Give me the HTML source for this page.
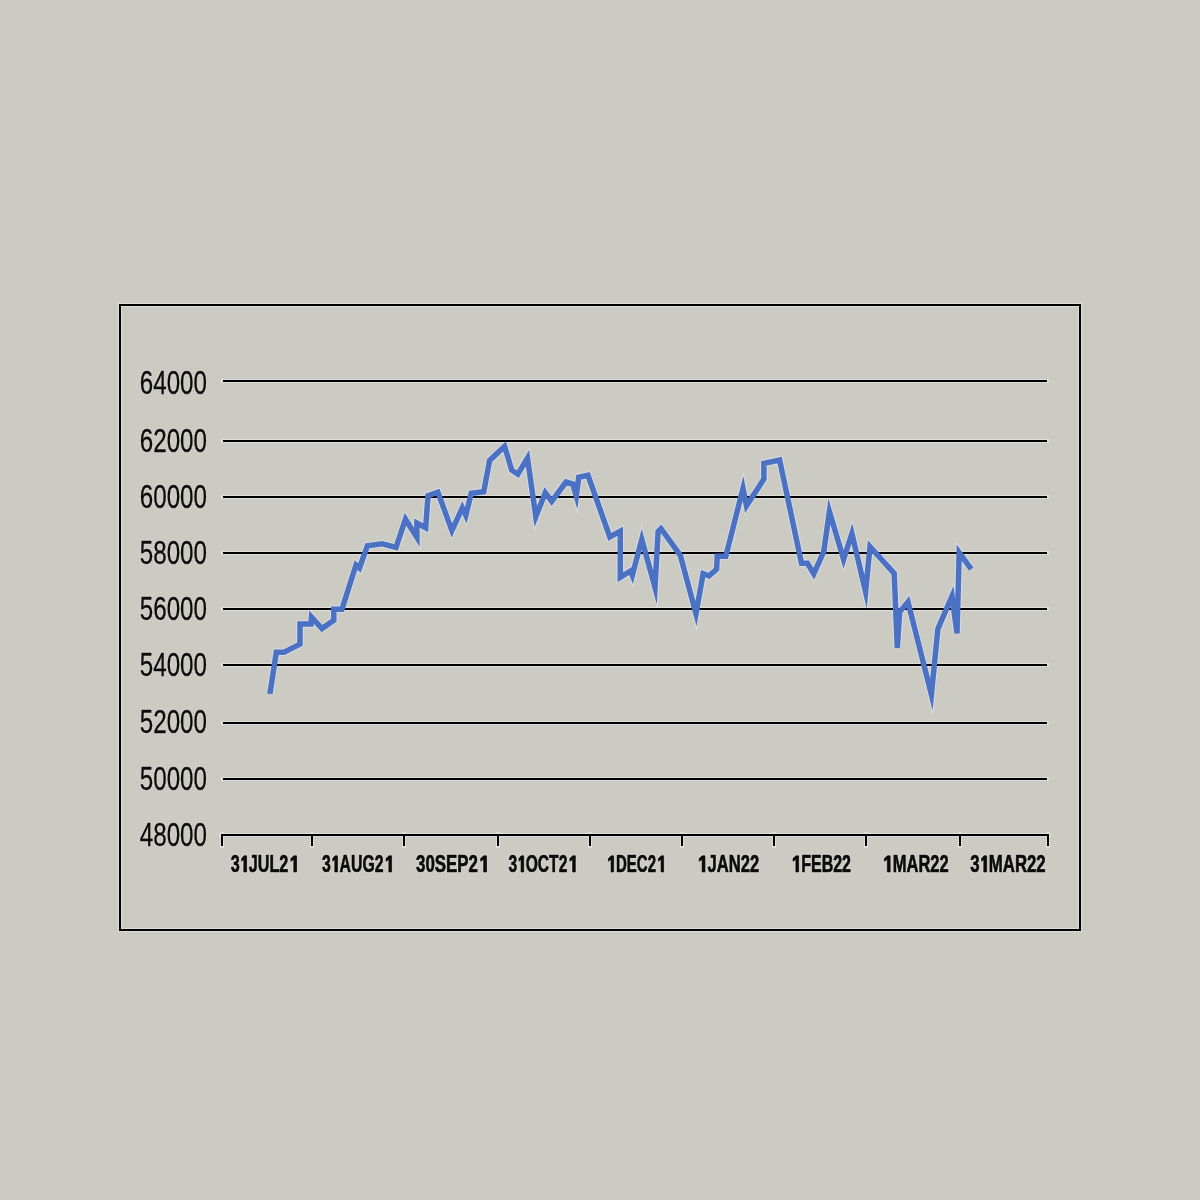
<!DOCTYPE html>
<html><head><meta charset="utf-8"><title>Chart</title>
<style>html,body{margin:0;padding:0;background:#cbcbc3;width:1200px;height:1200px;overflow:hidden}
svg{display:block}
.yl{font-family:"Liberation Sans",sans-serif;font-size:33px;fill:#0a0a0a;stroke:#0a0a0a;stroke-width:0.35px}
.xl{font-family:"Liberation Sans",sans-serif;font-weight:bold;font-size:23.5px;fill:#0a0a0a;stroke:#0a0a0a;stroke-width:0.7px}
.xl1{fill:#0a0a0a;stroke:#0a0a0a;stroke-width:0.7px;vector-effect:non-scaling-stroke}
</style></head><body>
<svg width="1200" height="1200" viewBox="0 0 1200 1200">
<rect x="0" y="0" width="1200" height="1200" fill="#cbcbc3"/>
<path d="M120 305H1080V930H120ZM223 381H1047M223 441H1047M223 497H1047M223 553H1047M223 609H1047M223 665H1047M223 723H1047M223 779H1047M221 835H1049M222 834V846M312 834V846M404 834V846M498 834V846M590 834V846M682 834V846M774 834V846M866 834V846M960 834V846M1048 834V846" fill="none" stroke="#dfdfd7" stroke-width="4" stroke-linecap="square" stroke-linejoin="miter"/>
<path d="M269.45 697 L276.3 652.3 L284 652.3 L300 644.1 L300 624 L311 624 L311.5 617.02 L322 628.5 L333.8 620.2 L333.8 609.2 L342 609.2 L356 565 L359.5 568 L367.4 545.7 L382 543.7 L396 547.5 L405.5 519.24 L416.9 537.44 L416.9 523.1 L425.7 527.8 L428 495.7 L437.9 492.2 L451.9 530.62 L462.3 507.84 L465.8 515.36 L471.25 493.3 L483.75 491.7 L489.6 460.4 L504.6 446.3 L511.7 470 L517.9 474.2 L527.5 458.18 L535.8 516.6 L545.3 492.7 L551.7 501.3 L566 482 L572.7 484 L576.3 496.1 L578.7 477.3 L588 475.3 L609.8 537 L620.3 531.2 L620.3 577.3 L630.5 571 L632.3 575.34 L641.8 539.28 L655 587.46 L658.1 531.4 L661 528.7 L680.3 555.3 L696 613.84 L703.1 573.7 L709 575.8 L716.6 569.3 L717.2 556.3 L725.8 556.3 L743 488.36 L746.5 505.82 L763.9 479 L763.9 463.3 L779.6 460 L801.5 563.2 L807.4 563.2 L813.8 573.76 L823.8 551.5 L829.4 511.5 L843.6 559.36 L851.9 533.46 L865.6 591.84 L870 546.74 L894.2 573.3 L897.3 648 L899.6 612 L908 601.96 L931.4 694.6 L937.9 628.8 L952 596.24 L957 633.5 L959.2 552.66 L971.25 569.2" fill="none" stroke="#d9dce0" stroke-width="7.5" stroke-linejoin="miter" stroke-miterlimit="10" stroke-linecap="butt"/>
<path d="M120 305H1080V930H120ZM223 381H1047M223 441H1047M223 497H1047M223 553H1047M223 609H1047M223 665H1047M223 723H1047M223 779H1047M221 835H1049M222 834V846M312 834V846M404 834V846M498 834V846M590 834V846M682 834V846M774 834V846M866 834V846M960 834V846M1048 834V846" fill="none" stroke="#000" stroke-width="2" stroke-linejoin="miter"/>
<g opacity="0.995" fill="#dcdcd4" stroke="#dcdcd4" stroke-width="1.6" stroke-linejoin="round">
<text style="font-family:'Liberation Sans',sans-serif;font-size:33px" text-anchor="end" transform="translate(207 393.6) scale(0.733 1)">64000</text>
<text style="font-family:'Liberation Sans',sans-serif;font-size:33px" text-anchor="end" transform="translate(207 452) scale(0.733 1)">62000</text>
<text style="font-family:'Liberation Sans',sans-serif;font-size:33px" text-anchor="end" transform="translate(207 507.8) scale(0.733 1)">60000</text>
<text style="font-family:'Liberation Sans',sans-serif;font-size:33px" text-anchor="end" transform="translate(207 563.6) scale(0.733 1)">58000</text>
<text style="font-family:'Liberation Sans',sans-serif;font-size:33px" text-anchor="end" transform="translate(207 620) scale(0.733 1)">56000</text>
<text style="font-family:'Liberation Sans',sans-serif;font-size:33px" text-anchor="end" transform="translate(207 676.3) scale(0.733 1)">54000</text>
<text style="font-family:'Liberation Sans',sans-serif;font-size:33px" text-anchor="end" transform="translate(207 732.6) scale(0.733 1)">52000</text>
<text style="font-family:'Liberation Sans',sans-serif;font-size:33px" text-anchor="end" transform="translate(207 789.6) scale(0.733 1)">50000</text>
<text style="font-family:'Liberation Sans',sans-serif;font-size:33px" text-anchor="end" transform="translate(207 845.9) scale(0.733 1)">48000</text>
<text style="font-family:'Liberation Sans',sans-serif;font-weight:bold;font-size:23.5px;stroke-width:2.3px" textLength="66.6" lengthAdjust="spacingAndGlyphs" x="230.7" y="872">3 JUL2 </text>
<text style="font-family:'Liberation Sans',sans-serif;font-weight:bold;font-size:23.5px;stroke-width:2.3px" textLength="70.3" lengthAdjust="spacingAndGlyphs" x="322" y="872">3 AUG2 </text>
<text style="font-family:'Liberation Sans',sans-serif;font-weight:bold;font-size:23.5px;stroke-width:2.3px" textLength="71.2" lengthAdjust="spacingAndGlyphs" x="416.1" y="872">30SEP2 </text>
<text style="font-family:'Liberation Sans',sans-serif;font-weight:bold;font-size:23.5px;stroke-width:2.3px" textLength="67.6" lengthAdjust="spacingAndGlyphs" x="508.4" y="872">3 OCT2 </text>
<text style="font-family:'Liberation Sans',sans-serif;font-weight:bold;font-size:23.5px;stroke-width:2.3px" textLength="56.6" lengthAdjust="spacingAndGlyphs" x="607.7" y="872"> DEC2 </text>
<text style="font-family:'Liberation Sans',sans-serif;font-weight:bold;font-size:23.5px;stroke-width:2.3px" textLength="60.8" lengthAdjust="spacingAndGlyphs" x="698.4" y="872"> JAN22</text>
<text style="font-family:'Liberation Sans',sans-serif;font-weight:bold;font-size:23.5px;stroke-width:2.3px" textLength="58.7" lengthAdjust="spacingAndGlyphs" x="792.3" y="872"> FEB22</text>
<text style="font-family:'Liberation Sans',sans-serif;font-weight:bold;font-size:23.5px;stroke-width:2.3px" textLength="65.1" lengthAdjust="spacingAndGlyphs" x="883.6" y="872"> MAR22</text>
<text style="font-family:'Liberation Sans',sans-serif;font-weight:bold;font-size:23.5px;stroke-width:2.3px" textLength="75.5" lengthAdjust="spacingAndGlyphs" x="970.2" y="872">3 MAR22</text>
<path style="stroke-width:2.3px;vector-effect:non-scaling-stroke" d="M521 0L521 1100L250 930L250 1180L536 1409L876 1409L876 0Z" transform="matrix(0.007909 0 0 -0.011475 239.698 872)"/><path style="stroke-width:2.3px;vector-effect:non-scaling-stroke" d="M695 0L695 1100L326 930L326 1180L710 1409L1050 1409L1050 0Z" transform="matrix(0.007919 0 0 -0.011475 288.281 872)"/><path style="stroke-width:2.3px;vector-effect:non-scaling-stroke" d="M521 0L521 1100L250 930L250 1180L536 1409L876 1409L876 0Z" transform="matrix(0.007724 0 0 -0.011475 330.788 872)"/><path style="stroke-width:2.3px;vector-effect:non-scaling-stroke" d="M695 0L695 1100L326 930L326 1180L710 1409L1050 1409L1050 0Z" transform="matrix(0.007724 0 0 -0.011475 383.502 872)"/><path style="stroke-width:2.3px;vector-effect:non-scaling-stroke" d="M695 0L695 1100L326 930L326 1180L710 1409L1050 1409L1050 0Z" transform="matrix(0.008242 0 0 -0.011475 477.913 872)"/><path style="stroke-width:2.3px;vector-effect:non-scaling-stroke" d="M521 0L521 1100L250 930L250 1180L536 1409L876 1409L876 0Z" transform="matrix(0.007618 0 0 -0.011475 517.066 872)"/><path style="stroke-width:2.3px;vector-effect:non-scaling-stroke" d="M695 0L695 1100L326 930L326 1180L710 1409L1050 1409L1050 0Z" transform="matrix(0.007618 0 0 -0.011475 567.323 872)"/><path style="stroke-width:2.3px;vector-effect:non-scaling-stroke" d="M458 0L458 1100L89 930L89 1180L473 1409L813 1409L813 0Z" transform="matrix(0.007316 0 0 -0.011475 607.7 872)"/><path style="stroke-width:2.3px;vector-effect:non-scaling-stroke" d="M695 0L695 1100L326 930L326 1180L710 1409L1050 1409L1050 0Z" transform="matrix(0.007316 0 0 -0.011475 655.967 872)"/><path style="stroke-width:2.3px;vector-effect:non-scaling-stroke" d="M458 0L458 1100L89 930L89 1180L473 1409L813 1409L813 0Z" transform="matrix(0.008096 0 0 -0.011475 698.4 872)"/><path style="stroke-width:2.3px;vector-effect:non-scaling-stroke" d="M458 0L458 1100L89 930L89 1180L473 1409L813 1409L813 0Z" transform="matrix(0.007817 0 0 -0.011475 792.3 872)"/><path style="stroke-width:2.3px;vector-effect:non-scaling-stroke" d="M458 0L458 1100L89 930L89 1180L473 1409L813 1409L813 0Z" transform="matrix(0.008060 0 0 -0.011475 883.6 872)"/><path style="stroke-width:2.3px;vector-effect:non-scaling-stroke" d="M521 0L521 1100L250 930L250 1180L536 1409L876 1409L876 0Z" transform="matrix(0.008194 0 0 -0.011475 979.522 872)"/></g>
<g opacity="0.995">
<text class="yl" text-anchor="end" transform="translate(207 393.6) scale(0.733 1)">64000</text>
<text class="yl" text-anchor="end" transform="translate(207 452) scale(0.733 1)">62000</text>
<text class="yl" text-anchor="end" transform="translate(207 507.8) scale(0.733 1)">60000</text>
<text class="yl" text-anchor="end" transform="translate(207 563.6) scale(0.733 1)">58000</text>
<text class="yl" text-anchor="end" transform="translate(207 620) scale(0.733 1)">56000</text>
<text class="yl" text-anchor="end" transform="translate(207 676.3) scale(0.733 1)">54000</text>
<text class="yl" text-anchor="end" transform="translate(207 732.6) scale(0.733 1)">52000</text>
<text class="yl" text-anchor="end" transform="translate(207 789.6) scale(0.733 1)">50000</text>
<text class="yl" text-anchor="end" transform="translate(207 845.9) scale(0.733 1)">48000</text>
<text class="xl" textLength="66.6" lengthAdjust="spacingAndGlyphs" x="230.7" y="872">3 JUL2 </text>
<text class="xl" textLength="70.3" lengthAdjust="spacingAndGlyphs" x="322" y="872">3 AUG2 </text>
<text class="xl" textLength="71.2" lengthAdjust="spacingAndGlyphs" x="416.1" y="872">30SEP2 </text>
<text class="xl" textLength="67.6" lengthAdjust="spacingAndGlyphs" x="508.4" y="872">3 OCT2 </text>
<text class="xl" textLength="56.6" lengthAdjust="spacingAndGlyphs" x="607.7" y="872"> DEC2 </text>
<text class="xl" textLength="60.8" lengthAdjust="spacingAndGlyphs" x="698.4" y="872"> JAN22</text>
<text class="xl" textLength="58.7" lengthAdjust="spacingAndGlyphs" x="792.3" y="872"> FEB22</text>
<text class="xl" textLength="65.1" lengthAdjust="spacingAndGlyphs" x="883.6" y="872"> MAR22</text>
<text class="xl" textLength="75.5" lengthAdjust="spacingAndGlyphs" x="970.2" y="872">3 MAR22</text>
<path class="xl1" d="M521 0L521 1100L250 930L250 1180L536 1409L876 1409L876 0Z" transform="matrix(0.007909 0 0 -0.011475 239.698 872)"/><path class="xl1" d="M695 0L695 1100L326 930L326 1180L710 1409L1050 1409L1050 0Z" transform="matrix(0.007919 0 0 -0.011475 288.281 872)"/><path class="xl1" d="M521 0L521 1100L250 930L250 1180L536 1409L876 1409L876 0Z" transform="matrix(0.007724 0 0 -0.011475 330.788 872)"/><path class="xl1" d="M695 0L695 1100L326 930L326 1180L710 1409L1050 1409L1050 0Z" transform="matrix(0.007724 0 0 -0.011475 383.502 872)"/><path class="xl1" d="M695 0L695 1100L326 930L326 1180L710 1409L1050 1409L1050 0Z" transform="matrix(0.008242 0 0 -0.011475 477.913 872)"/><path class="xl1" d="M521 0L521 1100L250 930L250 1180L536 1409L876 1409L876 0Z" transform="matrix(0.007618 0 0 -0.011475 517.066 872)"/><path class="xl1" d="M695 0L695 1100L326 930L326 1180L710 1409L1050 1409L1050 0Z" transform="matrix(0.007618 0 0 -0.011475 567.323 872)"/><path class="xl1" d="M458 0L458 1100L89 930L89 1180L473 1409L813 1409L813 0Z" transform="matrix(0.007316 0 0 -0.011475 607.7 872)"/><path class="xl1" d="M695 0L695 1100L326 930L326 1180L710 1409L1050 1409L1050 0Z" transform="matrix(0.007316 0 0 -0.011475 655.967 872)"/><path class="xl1" d="M458 0L458 1100L89 930L89 1180L473 1409L813 1409L813 0Z" transform="matrix(0.008096 0 0 -0.011475 698.4 872)"/><path class="xl1" d="M458 0L458 1100L89 930L89 1180L473 1409L813 1409L813 0Z" transform="matrix(0.007817 0 0 -0.011475 792.3 872)"/><path class="xl1" d="M458 0L458 1100L89 930L89 1180L473 1409L813 1409L813 0Z" transform="matrix(0.008060 0 0 -0.011475 883.6 872)"/><path class="xl1" d="M521 0L521 1100L250 930L250 1180L536 1409L876 1409L876 0Z" transform="matrix(0.008194 0 0 -0.011475 979.522 872)"/></g>
<path d="M269.45 697 L276.3 652.3 L284 652.3 L300 644.1 L300 624 L311 624 L311.5 617.02 L322 628.5 L333.8 620.2 L333.8 609.2 L342 609.2 L356 565 L359.5 568 L367.4 545.7 L382 543.7 L396 547.5 L405.5 519.24 L416.9 537.44 L416.9 523.1 L425.7 527.8 L428 495.7 L437.9 492.2 L451.9 530.62 L462.3 507.84 L465.8 515.36 L471.25 493.3 L483.75 491.7 L489.6 460.4 L504.6 446.3 L511.7 470 L517.9 474.2 L527.5 458.18 L535.8 516.6 L545.3 492.7 L551.7 501.3 L566 482 L572.7 484 L576.3 496.1 L578.7 477.3 L588 475.3 L609.8 537 L620.3 531.2 L620.3 577.3 L630.5 571 L632.3 575.34 L641.8 539.28 L655 587.46 L658.1 531.4 L661 528.7 L680.3 555.3 L696 613.84 L703.1 573.7 L709 575.8 L716.6 569.3 L717.2 556.3 L725.8 556.3 L743 488.36 L746.5 505.82 L763.9 479 L763.9 463.3 L779.6 460 L801.5 563.2 L807.4 563.2 L813.8 573.76 L823.8 551.5 L829.4 511.5 L843.6 559.36 L851.9 533.46 L865.6 591.84 L870 546.74 L894.2 573.3 L897.3 648 L899.6 612 L908 601.96 L931.4 694.6 L937.9 628.8 L952 596.24 L957 633.5 L959.2 552.66 L971.25 569.2" fill="none" stroke="#4a71c4" stroke-width="5.5" stroke-linejoin="miter" stroke-miterlimit="10" stroke-linecap="butt"/>
<rect x="262" y="693.8" width="16" height="6" fill="#cbcbc3"/>
</svg>
</body></html>
